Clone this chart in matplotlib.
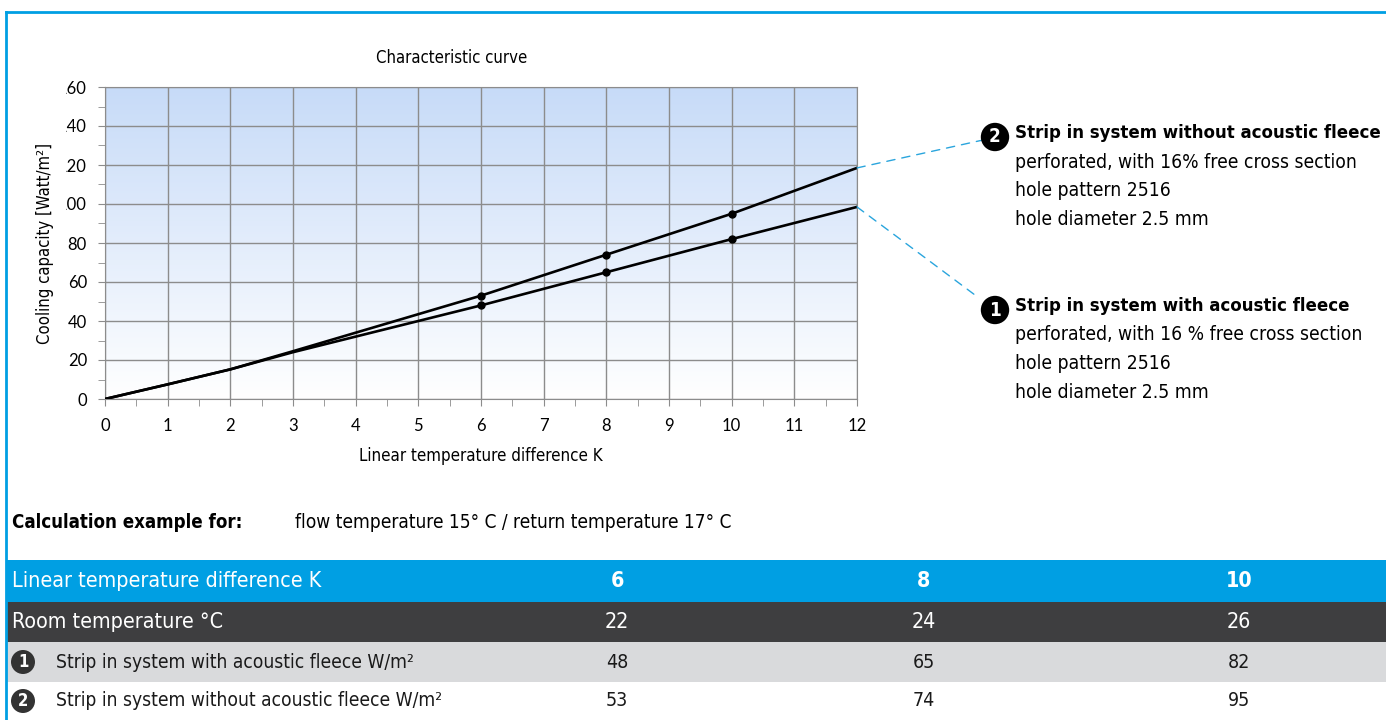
import numpy as np
import matplotlib
matplotlib.use('Agg')
import matplotlib.pyplot as plt
from matplotlib.colors import LinearSegmentedColormap
from matplotlib.patches import Rectangle, ConnectionPatch
from matplotlib.lines import Line2D
from matplotlib.transforms import Bbox, TransformedBbox

plt.rcParams['font.family'] = ['DejaVu Sans']
plt.rcParams['font.stretch'] = 'condensed'

# curve data
temp_diff = [0, 1, 2, 3, 6, 8, 10, 12]
with_fleece = [0, 7.5, 15.2, 24.0, 48, 65, 82, 98.5]
without_fleece = [0, 7.5, 15.2, 24.5, 53, 74, 95, 118.5]

# calculation example table
table_k = [6, 8, 10]
room_temp = [22, 24, 26]
fleece_vals = [48, 65, 82]
no_fleece_vals = [53, 74, 95]

W, H = 1386, 720
BLUE = '#009fe3'


def px(x):
    return x / W


def py(y):
    return 1 - y / H


fig = plt.figure(figsize=(W / 100, H / 100), dpi=100)
ax = fig.add_axes([px(105), py(399), px(857) - px(105), py(87) - py(399)])

# gradient background of the plot area
cmap = LinearSegmentedColormap.from_list('bg', ['#ffffff', '#c7dbf8'])
ax.imshow(np.linspace(1, 0, 256).reshape(-1, 1), cmap=cmap, aspect='auto',
          extent=[0, 12, 0, 160], zorder=0, interpolation='bilinear')

ax.plot(temp_diff, with_fleece, color='black', lw=1.9, zorder=3)
ax.plot(temp_diff, without_fleece, color='black', lw=1.9, zorder=3)
ax.plot(table_k, fleece_vals, 'o', color='black', ms=5, zorder=4)
ax.plot(table_k, no_fleece_vals, 'o', color='black', ms=5, zorder=4)

ax.set_xlim(0, 12)
ax.set_ylim(0, 160)
ax.set_xticks(range(0, 13))
ax.set_xticks(np.arange(0.5, 12, 1), minor=True)
ax.set_yticks(range(0, 161, 20))
ax.set_yticks(range(10, 160, 20), minor=True)
ax.set_axisbelow(True)
ax.grid(which='major', color='#8c8c8c', lw=1)
for s in ax.spines.values():
    s.set_color('#8c8c8c')
ax.tick_params(which='both', direction='out', color='#8c8c8c', length=5)
ax.tick_params(axis='x', pad=9)
ax.tick_params(axis='y', pad=8)
for lbl in ax.get_xticklabels() + ax.get_yticklabels():
    lbl.set_fontfamily('Lato')
    lbl.set_fontstretch('normal')
    lbl.set_fontsize(12)
# the left edge of the original cuts off the hundreds digit
clip = TransformedBbox(Bbox([[px(65.8), 0], [1, 1]]), fig.transFigure)
for lbl in ax.get_yticklabels():
    lbl.set_clip_on(True)
    lbl.set_clip_box(clip)

ax.set_xlabel('Linear temperature difference K', fontsize=12.2, labelpad=9)
fig.text(px(45), py(243), 'Cooling capacity [Watt/m²]', rotation=90,
         ha='center', va='center', fontsize=12)
fig.text(px(452), py(58), 'Characteristic curve', ha='center', va='center',
         fontsize=12)

# leader lines and legend texts
for yv, bx, by in [(without_fleece[-1], 983, 140), (with_fleece[-1], 979, 298)]:
    con = ConnectionPatch(xyA=(12, yv), coordsA='data', axesA=ax,
                          xyB=(px(bx), py(by)), coordsB='figure fraction',
                          color='#2aa5dd', lw=1, linestyle=(0, (6, 5)))
    fig.add_artist(con)


def badge(x, y, num, color='black', size=13, pad=0.18):
    fig.text(px(x), py(y), num, ha='center', va='center', color='white',
             fontsize=size, fontweight='bold',
             bbox=dict(boxstyle='circle,pad=%s' % pad, fc=color, ec='none'))


legend_blocks = [
    (133, '2', 'Strip in system without acoustic fleece',
     ['perforated, with 16% free cross section', 'hole pattern 2516', 'hole diameter 2.5 mm']),
    (306, '1', 'Strip in system with acoustic fleece',
     ['perforated, with 16 % free cross section', 'hole pattern 2516', 'hole diameter 2.5 mm']),
]
for y0, num, head, lines in legend_blocks:
    badge(995, y0 + 4, num, size=13.5, pad=0.25)
    fig.text(px(1015), py(y0), head, ha='left', va='center', fontsize=13.3,
             fontweight='bold')
    for i, t in enumerate(lines):
        fig.text(px(1015), py(y0 + 29 + 28.7 * i), t, ha='left', va='center',
                 fontsize=13.9)

fig.text(px(12), py(522), 'Calculation example for:', ha='left', va='center',
         fontsize=13.4, fontweight='bold')
fig.text(px(295), py(522), 'flow temperature 15° C / return temperature 17° C',
         ha='left', va='center', fontsize=13.7)

# table
rows = [
    (560, 602, BLUE, 'white', 'Linear temperature difference K', table_k, None),
    (602, 642, '#3e3e40', 'white', 'Room temperature °C', room_temp, None),
    (642, 682, '#d9dadc', '#1a1a1a', 'Strip in system with acoustic fleece W/m²', fleece_vals, '1'),
    (682, 720, '#ffffff', '#1a1a1a', 'Strip in system without acoustic fleece W/m²', no_fleece_vals, '2'),
]
col_x = [617, 924, 1239]
for top, bot, fc, tc, label, vals, num in rows:
    fig.patches.append(Rectangle((px(6), py(bot)), px(W) - px(6), py(top) - py(bot),
                                 transform=fig.transFigure, fc=fc, ec='none', zorder=0))
    yc = (top + bot) / 2
    if num is None:
        fig.text(px(12), py(yc), label, ha='left', va='center', color=tc, fontsize=15.4)
    else:
        badge(23, yc, num, color='#333333', size=12)
        fig.text(px(56), py(yc), label, ha='left', va='center', color=tc, fontsize=13.8)
    for cx, v in zip(col_x, vals):
        fig.text(px(cx), py(yc), str(v), ha='center', va='center', color=tc,
                 fontsize=15.4 if num is None else 14,
                 fontweight='bold' if top == 560 else 'normal')

# blue frame
fig.add_artist(Line2D([px(6), px(W)], [py(12), py(12)], color=BLUE, lw=2,
                      transform=fig.transFigure))
fig.add_artist(Line2D([px(6), px(6)], [py(12), py(H)], color=BLUE, lw=2,
                      transform=fig.transFigure))

fig.savefig('out.png', dpi=100)
